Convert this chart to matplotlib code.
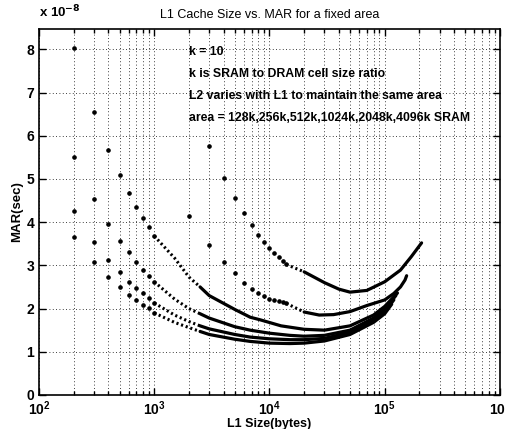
import matplotlib
matplotlib.use("Agg")
import matplotlib.pyplot as plt
from matplotlib.ticker import LogLocator, NullFormatter

# ---- data ----
# four series sampled every 100 bytes (isolated dots at small L1, dense curve later)
l1_a = [200, 300, 400, 500, 600, 700, 800, 900, 1000, 1500, 2000, 2500, 3000, 5000, 6800, 8300, 12600, 20000, 30000, 50000, 80000, 100000, 129000]
mar_a = [8.03, 6.55, 5.67, 5.08, 4.67, 4.35, 4.10, 3.89, 3.68, 3.17, 2.73, 2.50, 2.30, 1.98, 1.80, 1.74, 1.60, 1.52, 1.50, 1.60, 1.85, 2.05, 2.36]
l1_b = [200, 300, 400, 500, 600, 700, 800, 900, 1000, 1500, 2000, 2500, 3000, 5000, 6800, 10000, 15000, 20000, 30000, 50000, 80000, 100000, 125000]
mar_b = [5.50, 4.54, 3.96, 3.56, 3.31, 3.08, 2.89, 2.75, 2.62, 2.22, 2.00, 1.88, 1.78, 1.58, 1.50, 1.43, 1.38, 1.36, 1.38, 1.50, 1.78, 1.98, 2.30]
l1_c = [200, 300, 400, 500, 600, 700, 800, 900, 1000, 1500, 2000, 2500, 3000, 5000, 6800, 10000, 15000, 20000, 30000, 50000, 80000, 100000, 120000]
mar_c = [4.26, 3.54, 3.12, 2.85, 2.62, 2.47, 2.36, 2.24, 2.13, 1.85, 1.70, 1.60, 1.53, 1.40, 1.34, 1.30, 1.28, 1.28, 1.31, 1.45, 1.72, 1.92, 2.20]
l1_d = [200, 300, 400, 500, 600, 700, 800, 900, 1000, 1500, 2000, 2500, 3000, 5000, 6800, 10000, 15000, 20000, 30000, 50000, 80000, 100000, 115000]
mar_d = [3.66, 3.08, 2.73, 2.50, 2.31, 2.20, 2.08, 2.01, 1.90, 1.68, 1.56, 1.47, 1.40, 1.29, 1.24, 1.20, 1.19, 1.20, 1.25, 1.40, 1.68, 1.88, 2.10]
# two series sampled every 1000 bytes
l1_e = [3000, 4000, 5000, 6000, 7000, 8000, 9000, 10000, 11000, 12000, 13000, 14000, 20000, 30000, 40000, 50000, 70000, 100000, 137000, 170000, 209000]
mar_e = [5.76, 5.02, 4.56, 4.21, 3.93, 3.70, 3.54, 3.40, 3.29, 3.20, 3.10, 3.02, 2.85, 2.60, 2.45, 2.38, 2.42, 2.62, 2.89, 3.20, 3.52]
l1_f = [2000, 3000, 4000, 5000, 6000, 7000, 8000, 9000, 10000, 11000, 12000, 13000, 14000, 20000, 27000, 36000, 50000, 70000, 100000, 120000, 137000, 150000, 155000]
mar_f = [4.14, 3.47, 3.08, 2.82, 2.60, 2.45, 2.35, 2.28, 2.23, 2.20, 2.17, 2.15, 2.12, 1.92, 1.85, 1.86, 1.93, 2.07, 2.20, 2.35, 2.50, 2.66, 2.76]

# where the isolated dots stop and where the curve becomes solid
dots_until = {"a": 1000, "b": 1000, "c": 1000, "d": 1000, "e": 14000, "f": 14000}
solid_from = {"a": 2500, "b": 2500, "c": 2500, "d": 2500, "e": 20000, "f": 20000}

title = "L1 Cache Size vs. MAR for a fixed area"
notes = ["k = 10",
         "k is SRAM to DRAM cell size ratio",
         "L2 varies with L1 to maintain the same area",
         "area = 128k,256k,512k,1024k,2048k,4096k SRAM"]

plt.rcParams['font.family'] = ['Liberation Sans', 'DejaVu Sans']

fig = plt.figure(figsize=(5.06, 4.29), dpi=100)
ax = fig.add_axes([0.0771, 0.0793, 0.9109, 0.8531])

series = [(l1_a, mar_a, "a"), (l1_b, mar_b, "b"), (l1_c, mar_c, "c"),
          (l1_d, mar_d, "d"), (l1_e, mar_e, "e"), (l1_f, mar_f, "f")]
for xs, ys, key in series:
    d_end = dots_until[key]
    s_start = solid_from[key]
    px = [x for x in xs if x <= d_end]
    py = [y for x, y in zip(xs, ys) if x <= d_end]
    ax.plot(px, py, linestyle='none', marker='o', markersize=2.3, color='black')
    tx = [x for x in xs if d_end <= x <= s_start]
    ty = [y for x, y in zip(xs, ys) if d_end <= x <= s_start]
    ax.plot(tx, ty, color='black', linewidth=2.2, linestyle=(0, (0.7, 0.9)))
    sx = [x for x in xs if x >= s_start]
    sy = [y for x, y in zip(xs, ys) if x >= s_start]
    ax.plot(sx, sy, color='black', linewidth=2.3, solid_capstyle='round')

ax.set_xscale('log')
ax.set_xlim(1e2, 1e6)
ax.set_ylim(0, 8.47)
ax.set_yticks(range(0, 9))
ax.set_yticklabels([str(i) for i in range(0, 9)])
ax.xaxis.set_minor_locator(LogLocator(base=10, subs=range(2, 10)))
ax.xaxis.set_minor_formatter(NullFormatter())

ax.grid(True, which='major', axis='both', linestyle=(0, (1, 3)), color='black', linewidth=0.6)
ax.grid(True, which='minor', axis='x', linestyle=(0, (1, 3)), color='black', linewidth=0.6)

ax.tick_params(which='both', direction='in', top=True, right=True, labelsize=10, width=1)
ax.tick_params(axis='x', which='major', pad=3)
ax.tick_params(which='major', length=5)
ax.tick_params(which='minor', length=3)
for lab in ax.get_xticklabels() + ax.get_yticklabels():
    lab.set_fontweight('bold')
for sp in ax.spines.values():
    sp.set_linewidth(1.2)

ax.set_title(title, fontsize=9, pad=8)
ax.set_xlabel("L1 Size(bytes)", fontsize=9, fontweight='bold', labelpad=0)
ax.set_ylabel("MAR(sec)", fontsize=9.5, fontweight='bold', labelpad=2)
fig.text(0.078, 0.953, r"x 10$^{\mathbf{-8}}$", fontsize=9.5, fontweight='bold', ha='left', va='bottom')

for i, t in enumerate(notes):
    ax.text(0.326, 0.937 - i * 0.060, t, transform=ax.transAxes, fontsize=8.8,
            fontweight='bold', ha='left', va='center')

fig.savefig("out.png", dpi=100)
